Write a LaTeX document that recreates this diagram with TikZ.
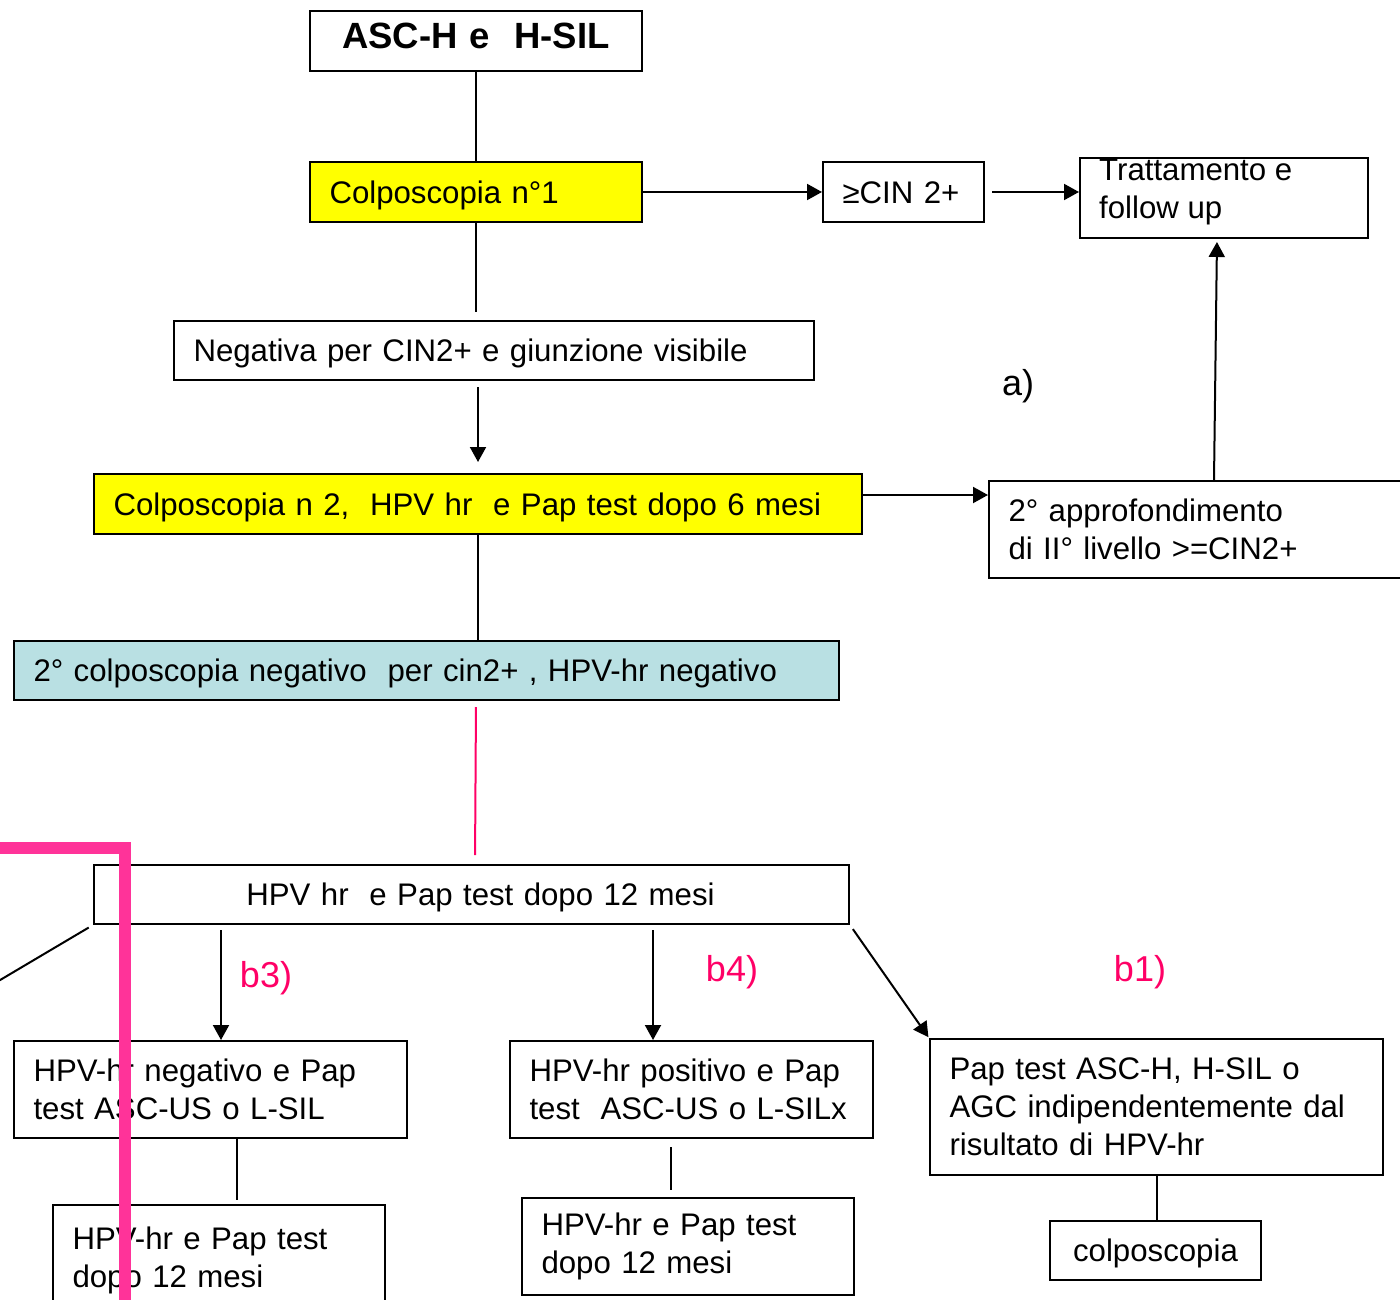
\documentclass[tikz,border=0pt]{standalone}
\usepackage{fontspec}
\setmainfont{Liberation Sans}
\usetikzlibrary{arrows.meta}
\definecolor{yel}{HTML}{FFFF00}
\definecolor{paleblue}{HTML}{B9E0E3}
\definecolor{pinkthin}{HTML}{FF0066}
\definecolor{pinkthick}{HTML}{FF3399}
\newcommand\bodyfont{\fontsize{31.2}{38}\selectfont}
\newcommand\titlefont{\fontsize{36.5}{42}\selectfont\bfseries}
\newcommand\tagfont{\fontsize{36}{40}\selectfont}
\tikzset{
  box/.style={draw, line width=2pt, rectangle, anchor=north west,
    inner xsep=19.5pt, inner ysep=0pt, align=left, font=\bodyfont},
  oneline/.style={text height=29pt, text depth=6.8pt},
  conn/.style={line width=2pt},
  arr/.style={line width=2pt, -{Triangle[length=15pt,width=16pt]}},
  tag/.style={font=\tagfont, inner sep=0pt},
}
\begin{document}
\begin{tikzpicture}[x=1pt,y=-1pt]
\useasboundingbox (0,0) rectangle (1400,1300);

% boxes
\node[box, text width=293pt, minimum height=60pt, align=center, font=\titlefont, text height=26pt, text depth=10pt] (title) at (309,10) {ASC-H e\ \ H-SIL};
\node[box, oneline, fill=yel, text width=293pt, minimum height=60pt] (colpo1) at (309,161) {Colposcopia n°1};
\node[box, oneline, text width=122pt, minimum height=60pt] (cin) at (822,161) {≥CIN 2+};
\node[box, text width=249pt, minimum height=80pt] (tratt) at (1079,157) {};
\node[anchor=west, inner sep=0pt, align=left, font=\bodyfont] (trattText) at ([xshift=20pt,yshift=6pt]tratt.west) {Trattamento e\\follow up};
\node[box, oneline, text width=601pt, minimum height=59pt] (neg) at (173,320) {Negativa per CIN2+ e giunzione visibile};
\node[box, oneline, fill=yel, text width=729pt, minimum height=60pt] (colpo2) at (93,473) {\mbox{Colposcopia n 2,\ \ HPV hr\ \ e Pap test dopo 6 mesi}};
\node[box, text width=383pt, minimum height=97pt] (appro) at (988,480) {\mbox{2° approfondimento}\\\mbox{di II° livello >=CIN2+}};
\node[box, oneline, fill=paleblue, text width=786pt, minimum height=59pt] (neg2) at (13,640) {\mbox{2° colposcopia negativo\ \ per cin2+ , HPV-hr negativo}};
\node[box, oneline, text width=716pt, minimum height=59pt, align=center] (hpv12) at (93,864) {\hspace*{18pt}HPV hr\ \ e Pap test dopo 12 mesi};
\node[box, text width=354pt, minimum height=97pt] (b3box) at (13,1040) {\mbox{HPV-hr negativo e Pap}\\\mbox{test ASC-US o L-SIL}};
\node[box, text width=324pt, minimum height=97pt] (b4box) at (509,1040) {\mbox{HPV-hr positivo e Pap}\\\mbox{test\ \ ASC-US o L-SILx}};
\node[box, text width=414pt, minimum height=136pt] (b1box) at (929,1038) {\mbox{Pap test ASC-H, H-SIL o}\\\mbox{AGC indipendentemente dal}\\\mbox{risultato di HPV-hr}};
\node[box, text width=293pt, minimum height=110pt] (fu3) at (52,1204) {\mbox{HPV-hr e Pap test}\\\mbox{dopo 12 mesi}};
\node[box, text width=293pt, minimum height=97pt] (fu4) at (521,1197) {\mbox{HPV-hr e Pap test}\\\mbox{dopo 12 mesi}};
\node[box, oneline, text width=172pt, minimum height=59pt, align=center] (colp) at (1049,1220) {colposcopia};

% branch labels
\node[tag] (la) at (1018,386) {a)};
\node[tag, text=pinkthin] (lb3) at (266,978) {b3)};
\node[tag, text=pinkthin] (lb4) at (732,972) {b4)};
\node[tag, text=pinkthin] (lb1) at (1140,972) {b1)};

% helper coordinates
\coordinate (x476) at (476,0);
\coordinate (x475) at (475,0);
\coordinate (x221) at (221,0);
\coordinate (x653) at (653,0);
\coordinate (x237) at (237,0);
\coordinate (x671) at (671,0);
\coordinate (aprY) at (988,495);
\coordinate (offL) at (-10,986);
\coordinate (pinkA) at (-10,848);
\coordinate (pinkB) at (125,848);
\coordinate (pinkC) at (125,1310);

% main column
\draw[conn] (title.south) -- (colpo1.north);
\draw[conn, shorten >=8pt] (colpo1.south) -- (colpo1.south |- neg.north);
\draw[arr, shorten <=6pt, shorten >=11pt] (colpo2.north |- neg.south) -- (colpo2.north);
\draw[conn] (colpo2.south) -- (colpo2.south |- neg2.north);
\draw[line width=2pt, pinkthin, shorten <=6pt, shorten >=9pt] (neg2.south -| x476) -- (hpv12.north -| x475);

% right branch
\draw[arr] (colpo1.east) -- (cin.west);
\draw[arr, shorten <=7pt] (cin.east) -- (cin.east -| tratt.west);
\draw[arr] (colpo2.east |- aprY) -- (aprY);
\draw[arr, shorten >=3pt] ([xshift=14pt]appro.north) -- ([xshift=-7pt]tratt.south);

% lower branches
\draw[conn, shorten <=5pt] (hpv12.south west) -- (offL);
\draw[arr, shorten <=5pt] (hpv12.south -| x221) -- (b3box.north -| x221);
\draw[arr, shorten <=5pt] (hpv12.south -| x653) -- (b4box.north -| x653);
\draw[arr, shorten <=5pt, shorten >=1pt] (hpv12.south east) -- (b1box.north west);
\draw[conn, shorten >=4pt] (b3box.south -| x237) -- (fu3.north -| x237);
\draw[conn, shorten <=8pt, shorten >=7pt] (b4box.south -| x671) -- (fu4.north -| x671);
\draw[conn] (b1box.south) -- (b1box.south |- colp.north);

% thick overlay line
\draw[line width=12pt, pinkthick, miter limit=10] (pinkA) -- (pinkB) -- (pinkC);
\end{tikzpicture}
\end{document}
